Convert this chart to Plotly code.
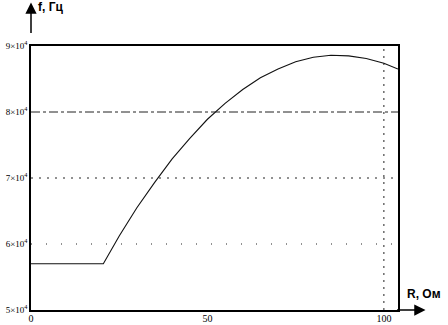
import plotly.graph_objects as go

# Data (R in Ohm, f in Hz)
R_values = [0, 5, 10, 15, 20.5, 25, 30, 35, 40, 45, 50, 55, 60, 65, 70, 75, 80, 85, 90, 95, 100, 104]
f_values = [57000, 57000, 57000, 57000, 57000, 61200, 65500, 69300, 72900, 76000, 78900,
            81300, 83400, 85200, 86500, 87600, 88300, 88600, 88500, 88100, 87400, 86500]

x_ticks = [0, 50, 100]
x_tick_labels = ["0", "50", "100"]
y_ticks = [50000, 60000, 70000, 80000, 90000]
y_tick_labels = ["5×10<sup>4</sup>", "6×10<sup>4</sup>", "7×10<sup>4</sup>",
                 "8×10<sup>4</sup>", "9×10<sup>4</sup>"]
x_range = [0, 104]
y_range = [50000, 90000]

fig = go.Figure()
fig.add_trace(go.Scatter(x=R_values, y=f_values, mode="lines",
                         line=dict(color="#111111", width=1.1), showlegend=False,
                         hoverinfo="skip"))

# grid lines (degraded scan look)
grid_styles = {60000: "1px,14px", 70000: "2px,6px", 80000: "dashdot"}
shapes = []
for yv, dash in grid_styles.items():
    shapes.append(dict(type="line", xref="x", yref="y", x0=x_range[0], x1=x_range[1],
                       y0=yv, y1=yv, line=dict(color="#222222", width=1, dash=dash)))
shapes.append(dict(type="line", xref="x", yref="y", x0=x_ticks[2], x1=x_ticks[2],
                   y0=y_range[0], y1=y_range[1], line=dict(color="#222222", width=1, dash="2px,5px")))

fig.update_layout(
    width=448, height=325,
    margin=dict(l=31, r=50, t=46, b=15, autoexpand=False),
    paper_bgcolor="white", plot_bgcolor="white",
    shapes=shapes,
    xaxis=dict(range=x_range, tickvals=x_ticks, ticktext=x_tick_labels, automargin=False,
               showgrid=False, zeroline=False, showline=True, mirror=True,
               linecolor="black", linewidth=1.5, ticks="", ticklabelstandoff=-2,
               tickfont=dict(family="Liberation Serif", size=10, color="black")),
    yaxis=dict(range=y_range, tickvals=y_ticks, ticktext=y_tick_labels, automargin=False,
               showgrid=False, zeroline=False, showline=True, mirror=True,
               linecolor="black", linewidth=1.5, ticks="", ticklabelstandoff=0,
               tickfont=dict(family="Liberation Serif", size=9, color="black")),
    annotations=[
        dict(xref="paper", yref="paper", x=1.075, y=0, ax=-30, ay=0, text="",
             showarrow=True, arrowhead=2, arrowsize=1.5, arrowwidth=1.5, arrowcolor="black"),
        dict(xref="paper", yref="paper", x=0, y=1.165, ax=0, ay=32, text="",
             showarrow=True, arrowhead=2, arrowsize=1.5, arrowwidth=1.5, arrowcolor="black"),
        dict(xref="paper", yref="paper", x=1.02, y=0.025, xanchor="left", yanchor="bottom",
             text="<b>R, Ом</b>", showarrow=False,
             font=dict(family="Liberation Sans", size=12, color="black")),
        dict(xref="paper", yref="paper", x=0.014, y=1.18, xanchor="left", yanchor="top",
             text="<b>f, Гц</b>", showarrow=False,
             font=dict(family="Liberation Sans", size=12, color="black")),
    ],
)

fig.write_html("out.html", config={"displayModeBar": False},
               post_script="document.body.style.margin='0';")
